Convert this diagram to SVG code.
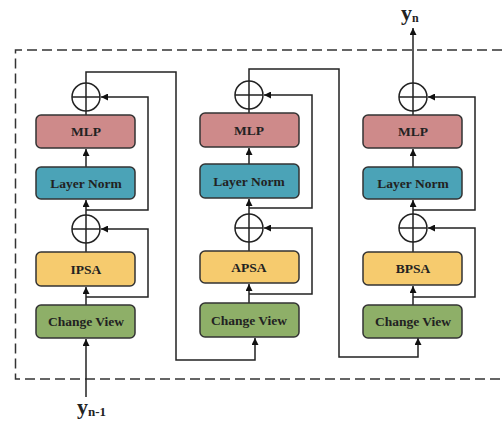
<svg xmlns="http://www.w3.org/2000/svg" width="502" height="424" viewBox="0 0 502 424">
<style>
.box{stroke:#333;stroke-width:1.5}
.mlp{fill:#CE8A8A}.ln{fill:#4BA3B7}.sa{fill:#F6CB6E}.cv{fill:#8EAF68}
.t{font-family:"Liberation Serif","Times New Roman",serif;font-weight:bold;font-size:13.5px;fill:#222;text-anchor:middle}
.ln2{fill:none;stroke:#222;stroke-width:1.5}
.c{fill:#fff;stroke:#222;stroke-width:1.5}
.lbl{font-family:"Liberation Serif","Times New Roman",serif;font-weight:bold;fill:#222}
</style>
<defs>
<marker id="a" viewBox="0 0 10 10" refX="10" refY="5" markerWidth="7" markerHeight="7" markerUnits="userSpaceOnUse" orient="auto"><path d="M0,0L10,5L0,10z" fill="#111"/></marker>
</defs>
<path d="M502 50H15.5V379H502" fill="none" stroke="#333" stroke-width="1.5" stroke-dasharray="10,5"/>

<g id="connectors">
<!-- column 1 -->
<path class="ln2" d="M86 397V339" marker-end="url(#a)"/>
<path class="ln2" d="M86 305V287" marker-end="url(#a)"/>
<path class="ln2" d="M86 252V243"/>
<path class="ln2" d="M86 215V200" marker-end="url(#a)"/>
<path class="ln2" d="M86 167V149" marker-end="url(#a)"/>
<path class="ln2" d="M86 115V111"/>
<path class="ln2" d="M86 297H148V229H101" marker-end="url(#a)"/>
<path class="ln2" d="M86 210H148V97H101" marker-end="url(#a)"/>
<path class="ln2" d="M86 83V72H176V360H255V338" marker-end="url(#a)"/>
<!-- column 2 -->
<path class="ln2" d="M249 303V284" marker-end="url(#a)"/>
<path class="ln2" d="M249 251V242"/>
<path class="ln2" d="M249 214V199" marker-end="url(#a)"/>
<path class="ln2" d="M249 164V148" marker-end="url(#a)"/>
<path class="ln2" d="M249 113V109"/>
<path class="ln2" d="M249 294H312V228H264" marker-end="url(#a)"/>
<path class="ln2" d="M249 208H312V95H264" marker-end="url(#a)"/>
<path class="ln2" d="M249 81V69H339V357H418V338" marker-end="url(#a)"/>
<!-- column 3 -->
<path class="ln2" d="M413 305V286" marker-end="url(#a)"/>
<path class="ln2" d="M413 252V242"/>
<path class="ln2" d="M413 214V200" marker-end="url(#a)"/>
<path class="ln2" d="M413 167V149" marker-end="url(#a)"/>
<path class="ln2" d="M413 115V111"/>
<path class="ln2" d="M413 297H475V228H428" marker-end="url(#a)"/>
<path class="ln2" d="M413 210H475V97H428" marker-end="url(#a)"/>
<path class="ln2" d="M413 83V28" marker-end="url(#a)"/>
</g>

<g id="add1a"><circle class="c" cx="86" cy="97" r="14"/><path class="ln2" d="M72 97H100M86 83V111"/></g>
<g id="add1b"><circle class="c" cx="86" cy="229" r="14"/><path class="ln2" d="M72 229H100M86 215V243"/></g>
<g id="add2a"><circle class="c" cx="249" cy="95" r="14"/><path class="ln2" d="M235 95H263M249 81V109"/></g>
<g id="add2b"><circle class="c" cx="249" cy="228" r="14"/><path class="ln2" d="M235 228H263M249 214V242"/></g>
<g id="add3a"><circle class="c" cx="413" cy="97" r="14"/><path class="ln2" d="M399 97H427M413 83V111"/></g>
<g id="add3b"><circle class="c" cx="413" cy="228" r="14"/><path class="ln2" d="M399 228H427M413 214V242"/></g>

<g id="mlp1"><rect class="box mlp" x="36" y="115" width="99" height="33" rx="5"/><text class="t" x="86" y="136">MLP</text></g>
<g id="ln1"><rect class="box ln" x="36" y="167" width="99" height="32" rx="5"/><text class="t" x="86" y="188">Layer Norm</text></g>
<g id="ipsa"><rect class="box sa" x="36" y="252" width="99" height="34" rx="5"/><text class="t" x="86" y="274">IPSA</text></g>
<g id="cv1"><rect class="box cv" x="36" y="305" width="99" height="33" rx="5"/><text class="t" x="86" y="326">Change View</text></g>

<g id="mlp2"><rect class="box mlp" x="200" y="113" width="99" height="34" rx="5"/><text class="t" x="249" y="135">MLP</text></g>
<g id="ln2"><rect class="box ln" x="200" y="164" width="99" height="34" rx="5"/><text class="t" x="249" y="186">Layer Norm</text></g>
<g id="apsa"><rect class="box sa" x="200" y="251" width="99" height="32" rx="5"/><text class="t" x="249" y="272">APSA</text></g>
<g id="cv2"><rect class="box cv" x="200" y="303" width="99" height="34" rx="5"/><text class="t" x="249" y="325">Change View</text></g>

<g id="mlp3"><rect class="box mlp" x="363" y="115" width="99" height="33" rx="5"/><text class="t" x="413" y="136">MLP</text></g>
<g id="ln3"><rect class="box ln" x="363" y="167" width="99" height="32" rx="5"/><text class="t" x="413" y="188">Layer Norm</text></g>
<g id="bpsa"><rect class="box sa" x="363" y="252" width="99" height="33" rx="5"/><text class="t" x="413" y="273">BPSA</text></g>
<g id="cv3"><rect class="box cv" x="363" y="305" width="99" height="33" rx="5"/><text class="t" x="413" y="326">Change View</text></g>

<g id="yn"><text class="lbl" x="401" y="20" font-size="22">y<tspan font-size="12" dy="2">n</tspan></text></g>
<g id="yn1"><text class="lbl" x="77" y="414" font-size="22">y<tspan font-size="13" dy="2">n-1</tspan></text></g>
</svg>
